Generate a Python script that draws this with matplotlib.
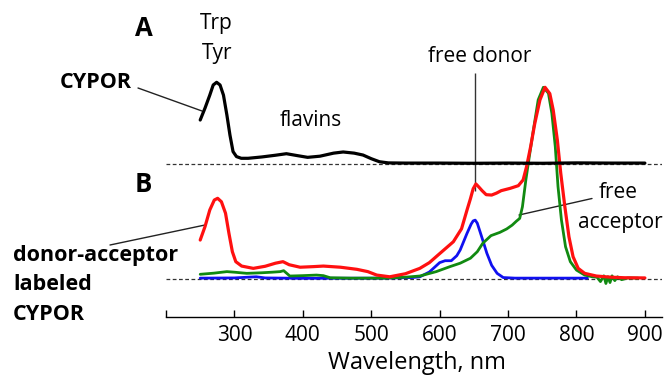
import numpy as np
import matplotlib.pyplot as plt

plt.rcParams['font.family'] = ['Open Sans', 'DejaVu Sans']

# -------------------------------------------------------
# Spectra (absorbance, main 755 nm peak = 100)
# -------------------------------------------------------
# A: CYPOR alone (black)
wl_cypor = [250, 257, 264, 269, 274, 279, 284, 289, 293.5, 298, 303, 310,
            320, 340, 360, 376, 392, 407, 425, 445, 459, 475, 488, 500, 512,
            525, 550, 600, 650, 700, 750, 800, 850, 900]
abs_cypor = [22.8, 29.0, 35.8, 41.1, 42.5, 41.1, 35.8, 25.4, 14.9, 6.3, 3.7,
             2.8, 2.8, 3.5, 4.4, 5.2, 4.2, 3.3, 3.9, 5.5, 6.1, 5.5, 4.5, 2.6,
             1.0, 0.4, 0.3, 0.3, 0.2, 0.3, 0.2, 0.4, 0.3, 0.3]

# B: donor-acceptor labeled CYPOR (red)
wl_labeled = [250, 257, 264, 270.6, 275.5, 281, 287, 292, 297, 302, 310.6,
              327.6, 345, 360, 371, 380, 396, 415, 430, 455, 479, 495, 508,
              527, 550, 571, 585, 600, 620, 632, 640, 645, 649, 653, 657, 662,
              668, 676, 683, 690, 703, 715, 722, 727, 733, 739, 746.6, 754,
              761, 766, 772, 777, 783, 789, 795, 802.5, 812, 829, 850, 870,
              900]
abs_labeled = [20.2, 27.2, 35.9, 41.1, 42.0, 40.2, 34.2, 23.7, 14.1, 8.9, 6.6,
               5.4, 6.5, 8.1, 8.9, 7.3, 6.0, 6.3, 6.6, 6.0, 4.9, 3.7, 1.9, 1.0,
               2.6, 5.4, 8.4, 13.1, 19.3, 26.1, 35.9, 41.8, 47.0, 49.5, 48.0,
               46.0, 43.9, 43.7, 44.7, 46.0, 47.2, 48.6, 51.6, 58.5, 69.0,
               81.0, 93.4, 100.0, 96.7, 88.1, 72.5, 55.1, 37.6, 21.9, 11.5,
               5.4, 2.8, 1.4, 0.8, 0.5, 0.4]

# B: free acceptor (green)
wl_acceptor = [250, 270, 289, 300, 318, 340, 355, 367, 372, 381, 400, 420,
               430, 440, 470, 520, 550, 571, 595, 615, 630, 645, 655, 663,
               675, 688, 698, 706, 712, 717, 721, 726, 731, 737, 744, 751.6,
               759, 764, 769, 773, 778, 784, 791, 800, 812, 823, 830, 835,
               840, 843, 846, 849, 852, 856, 860, 866, 875, 890]
abs_acceptor = [2.3, 2.9, 3.7, 3.4, 2.8, 3.1, 3.4, 3.7, 4.2, 1.4, 1.6, 1.9,
                1.6, 0.5, 0.3, 0.3, 0.8, 1.4, 3.7, 6.3, 8.1, 10.7, 14.1, 18.5,
                22.5, 24.2, 26.0, 28.0, 30.0, 31.5, 37.6, 51.6, 63.7, 77.7,
                93.4, 100.0, 96.9, 86.4, 69.0, 48.1, 30.7, 16.7, 8.9, 4.5, 1.9,
                1.0, 0.8, -1.5, 1.5, -2.5, 1.0, -2.0, 1.5, -1.0, 1.0, -0.5,
                0.4, 0.3]

# B: free donor (blue)
wl_donor = [250, 300, 320, 332, 345, 400, 520, 560, 571, 585, 600, 608, 617,
            625, 630, 640, 646, 649, 652, 655, 659, 664, 669, 676, 684, 693,
            710, 816]
abs_donor = [0.3, 0.4, 0.8, 1.0, 0.4, 0.2, 0.3, 0.6, 1.0, 3.5, 8.4, 9.4, 9.4,
             12.0, 15.0, 23.7, 28.5, 30.2, 30.6, 29.0, 24.6, 19.0, 13.3, 7.0,
             2.8, 0.6, 0.3, 0.3]

offset_a = 60.1          # vertical offset of panel A trace
donor_peak = 651
xticks = [200, 300, 400, 500, 600, 700, 800, 900]
xticklabels = ['', '300', '400', '500', '600', '700', '800', '900']

W, H = 668, 379


def fp(x, y):
    # pixel position -> figure fraction
    return (x / W, 1 - y / H)


fig = plt.figure(figsize=(W / 100, H / 100), dpi=100)
ax = fig.add_axes([166 / W, 1 - 316.7 / H, 496 / W, 316.7 / H])
ax.set_xlim(200, 925)
ax.set_ylim(-19.85, 145.6)

# baselines
ax.axhline(0, color='#333333', lw=0.9, ls=(0, (3, 2)), zorder=1)
ax.axhline(offset_a, color='#333333', lw=0.9, ls=(0, (3, 2)), zorder=1)

line_kw = dict(solid_joinstyle='round', solid_capstyle='round')
ax.plot(wl_donor, abs_donor, color='#1010f0', lw=2.0, zorder=3, **line_kw)
ax.plot(wl_acceptor, abs_acceptor, color='#118a11', lw=2.0, zorder=4,
        **line_kw)
ax.plot(wl_labeled, abs_labeled, color='#ff1010', lw=2.3, zorder=5,
        **line_kw)
ax.plot(wl_cypor, np.array(abs_cypor) + offset_a, color='black', lw=2.3,
        zorder=6, **line_kw)

# free donor marker line
ax.vlines(donor_peak, 46, 107.6, color='#333333', lw=1.0, zorder=2)

for s in ['left', 'right', 'top']:
    ax.spines[s].set_visible(False)
ax.spines['bottom'].set_linewidth(1.0)
ax.set_yticks([])
ax.set_xticks(xticks)
ax.set_xticklabels(xticklabels)
ax.tick_params(axis='x', direction='in', length=5, width=1.0, labelsize=15,
               pad=6)

fig.text(*fp(416.5, 363), 'Wavelength, nm', fontsize=17, ha='center',
         va='center')

# labels
fig.text(*fp(143.5, 28), 'A', fontsize=18.5, weight='bold', ha='center',
         va='center')
fig.text(*fp(143.5, 185), 'B', fontsize=18.5, weight='bold', ha='center',
         va='center')
fig.text(*fp(216.7, 23), 'Trp', fontsize=15, ha='center', va='center')
fig.text(*fp(216.7, 53), 'Tyr', fontsize=15, ha='center', va='center')
fig.text(*fp(311, 120), 'flavins', fontsize=15, ha='center', va='center')
fig.text(*fp(480, 57), 'free donor', fontsize=15, ha='center', va='center')
fig.text(*fp(618.5, 192), 'free', fontsize=15, ha='center', va='center')
fig.text(*fp(620, 222), 'acceptor', fontsize=15, ha='center', va='center')

fig.text(*fp(132, 83), 'CYPOR', fontsize=15.5, weight='bold', ha='right',
         va='center')
for txt, yy in [('donor-acceptor', 256), ('labeled', 285), ('CYPOR', 315)]:
    fig.text(*fp(13, yy), txt, fontsize=15.5, weight='bold', ha='left',
             va='center')

# leader lines
for (x0, y0), (x1, y1) in [((138, 88), (202, 111)),
                           ((110, 245), (205, 225)),
                           ((592, 198.5), (519, 215))]:
    ax.annotate('', xy=fp(x1, y1), xycoords='figure fraction',
                xytext=fp(x0, y0), textcoords='figure fraction',
                arrowprops=dict(arrowstyle='-', color='#222222', lw=1.0,
                                shrinkA=0, shrinkB=0))

fig.savefig('out.png', dpi=100)
